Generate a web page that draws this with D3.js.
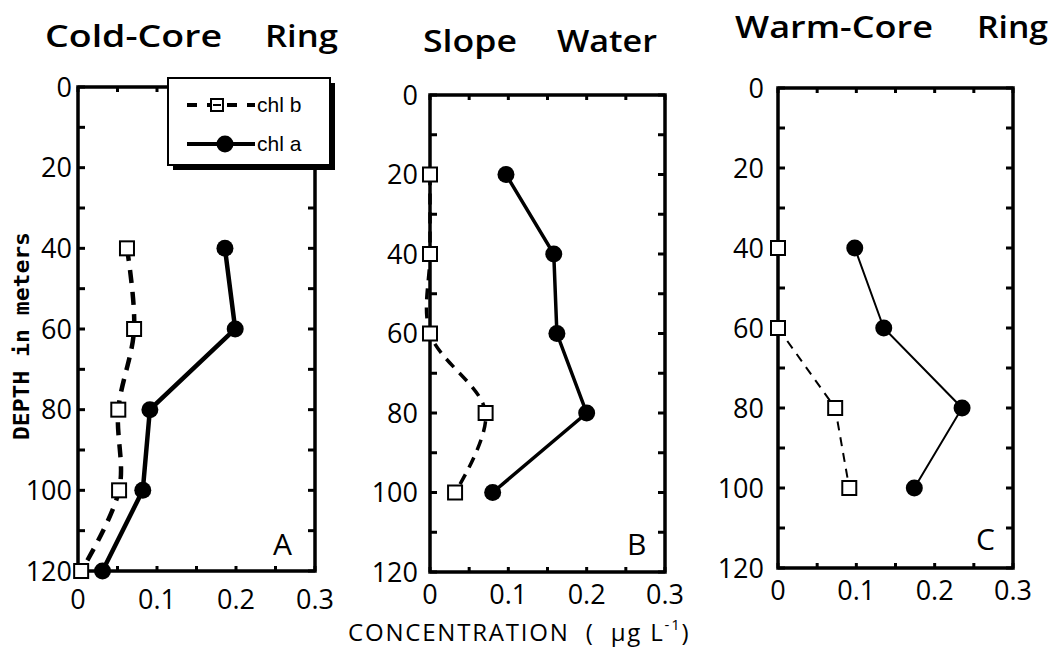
<!DOCTYPE html>
<html><head><meta charset="utf-8">
<script src="https://cdn.jsdelivr.net/npm/d3@7"></script>
<style>body{margin:0;background:#fff}svg{display:block}</style>
</head><body>
<script>
// ---- data ----
const panelLetters = ["A", "B", "C"];
const titleWords = [["Cold-Core", "Ring"], ["Slope", "Water"], ["Warm-Core", "Ring"]];
const depthTicks = [0, 20, 40, 60, 80, 100, 120];
const concTicks = [0, 0.1, 0.2, 0.3];
const concTickLabels = ["0", "0.1", "0.2", "0.3"];
const depthsA = [40, 60, 80, 100, 120];
const chlaA = [0.186, 0.199, 0.091, 0.082, 0.031];
const chlbA = [0.062, 0.071, 0.051, 0.052, 0.004];
const depthsB = [20, 40, 60, 80, 100];
const chlaB = [0.097, 0.158, 0.162, 0.200, 0.080];
const chlbB = [0, 0, 0, 0.071, 0.032];
const depthsC = [40, 60, 80, 100];
const chlaC = [0.098, 0.135, 0.235, 0.174];
const chlbC = [0, 0, 0.073, 0.091];
const legendLabels = ["chl b", "chl a"];
const yLabel = "DEPTH in meters";

// ---- layout ----
const W = 1055, H = 650;
const svg = d3.select("body").append("svg").attr("width", W).attr("height", H);
const FONT = "'Open Sans', 'DejaVu Sans', sans-serif";

const panels = [
  {x: [78, 315], y: [87, 571], depths: depthsA, a: chlaA, b: chlbA, lw: 4.5, dash: "13,9", gap: 6, xoff: 38,
   title: [[45, 222, 47], [265, 338, 47]], letter: [273, 555]},
  {x: [430, 665], y: [95, 572], depths: depthsB, a: chlaB, b: chlbB, lw: 3.5, dash: "11,8", gap: 12, xoff: 32,
   title: [[423, 517, 52], [557, 657, 52]], letter: [627, 555]},
  {x: [778, 1013], y: [88, 568], depths: depthsC, a: chlaC, b: chlbC, lw: 2, dash: "9,7", gap: 14, xoff: 32,
   title: [[735, 933, 38], [977, 1048, 38]], letter: [976, 550]}
];

panels.forEach((p, i) => {
  const x = d3.scaleLinear().domain([0, 0.3]).range(p.x);
  const y = d3.scaleLinear().domain([0, 120]).range(p.y);
  const g = svg.append("g");

  // inward ticks
  const yMinor = d3.range(0, 121, 10);
  const xMinor = d3.range(0, 0.3001, 0.05);
  g.selectAll(".tl").data(yMinor).join("line")
    .attr("x1", p.x[0]).attr("x2", p.x[0] + 7).attr("y1", d => y(d)).attr("y2", d => y(d))
    .attr("stroke", "#000").attr("stroke-width", 3);
  g.selectAll(".tr").data(yMinor).join("line")
    .attr("x1", p.x[1]).attr("x2", p.x[1] - 7).attr("y1", d => y(d)).attr("y2", d => y(d))
    .attr("stroke", "#000").attr("stroke-width", 3);
  g.selectAll(".tt").data(xMinor).join("line")
    .attr("x1", d => x(d)).attr("x2", d => x(d)).attr("y1", p.y[0]).attr("y2", p.y[0] + 5)
    .attr("stroke", "#000").attr("stroke-width", 3);
  g.selectAll(".tb").data(xMinor).join("line")
    .attr("x1", d => x(d)).attr("x2", d => x(d)).attr("y1", p.y[1]).attr("y2", p.y[1] - 5)
    .attr("stroke", "#000").attr("stroke-width", 3);

  // frame
  g.append("rect").attr("x", p.x[0]).attr("y", p.y[0])
    .attr("width", p.x[1] - p.x[0]).attr("height", p.y[1] - p.y[0])
    .attr("fill", "none").attr("stroke", "#000").attr("stroke-width", 3.5);

  // tick labels
  g.selectAll(".yl").data(depthTicks).join("text")
    .attr("x", p.x[0] - p.gap).attr("y", d => y(d)).attr("dy", "0.36em")
    .attr("text-anchor", "end").attr("font-family", FONT).attr("font-size", 27)
    .text(d => d);
  g.selectAll(".xl").data(concTicks).join("text")
    .attr("x", d => x(d)).attr("y", p.y[1] + p.xoff)
    .attr("text-anchor", "middle").attr("font-family", FONT).attr("font-size", 27)
    .text((d, k) => concTickLabels[k]);

  // data
  const ptsA = p.depths.map((d, k) => [p.a[k], d]);
  const ptsB = p.depths.map((d, k) => [p.b[k], d]);
  const line = d3.line().x(d => x(d[0])).y(d => y(d[1]));
  const lineB = d3.line().x(d => x(d[0])).y(d => y(d[1])).curve(i < 2 ? d3.curveCatmullRom : d3.curveLinear);
  g.append("path").attr("d", lineB(ptsB)).attr("fill", "none").attr("stroke", "#000")
    .attr("stroke-width", p.lw).attr("stroke-dasharray", p.dash);
  g.append("path").attr("d", line(ptsA)).attr("fill", "none").attr("stroke", "#000")
    .attr("stroke-width", p.lw);
  g.selectAll(".sq").data(ptsB).join("rect")
    .attr("x", d => x(d[0]) - 7).attr("y", d => y(d[1]) - 7).attr("width", 14).attr("height", 14)
    .attr("fill", "#fff").attr("stroke", "#000").attr("stroke-width", 2);
  g.selectAll(".ci").data(ptsA).join("circle")
    .attr("cx", d => x(d[0])).attr("cy", d => y(d[1])).attr("r", 8.5).attr("fill", "#000");

  // titles
  titleWords[i].forEach((w, k) => {
    const t = p.title[k];
    svg.append("text").attr("x", t[0]).attr("y", t[2])
      .attr("font-family", FONT).attr("font-size", 31).attr("font-weight", 600)
      .attr("textLength", t[1] - t[0]).attr("lengthAdjust", "spacingAndGlyphs").text(w);
  });
  // panel letter
  svg.append("text").attr("x", p.letter[0]).attr("y", p.letter[1])
    .attr("font-family", FONT).attr("font-size", 30).text(panelLetters[i]);
});

// legend (panel A)
const lg = svg.append("g");
lg.append("rect").attr("x", 173).attr("y", 83).attr("width", 162).attr("height", 87).attr("fill", "#000");
lg.append("rect").attr("x", 168).attr("y", 78).attr("width", 162).attr("height", 87)
  .attr("fill", "#fff").attr("stroke", "#000").attr("stroke-width", 2);
lg.append("line").attr("x1", 187).attr("x2", 255).attr("y1", 105).attr("y2", 105)
  .attr("stroke", "#000").attr("stroke-width", 4).attr("stroke-dasharray", "10,10");
lg.append("rect").attr("x", 211).attr("y", 99).attr("width", 12).attr("height", 12)
  .attr("fill", "#fff").attr("stroke", "#000").attr("stroke-width", 2);
lg.append("line").attr("x1", 213).attr("x2", 221).attr("y1", 105).attr("y2", 105)
  .attr("stroke", "#000").attr("stroke-width", 2);
lg.append("line").attr("x1", 187).attr("x2", 255).attr("y1", 144).attr("y2", 144)
  .attr("stroke", "#000").attr("stroke-width", 4);
lg.append("circle").attr("cx", 225).attr("cy", 144).attr("r", 8.5).attr("fill", "#000");
legendLabels.forEach((t, k) => {
  lg.append("text").attr("x", 257).attr("y", [112, 151][k])
    .attr("font-family", "'Liberation Sans', Arial, sans-serif").attr("font-size", 21).text(t);
});

// axis labels
svg.append("text").attr("transform", "translate(29,336) rotate(-90)")
  .attr("text-anchor", "middle").attr("font-family", "'DejaVu Sans Mono', monospace")
  .attr("font-weight", "bold").attr("font-size", 21)
  .attr("textLength", 208).attr("lengthAdjust", "spacingAndGlyphs").text(yLabel);
const xl = svg.append("text").attr("x", 348).attr("y", 641)
  .attr("font-family", FONT).attr("font-size", 24).attr("letter-spacing", 1.8).style("white-space", "pre");
xl.append("tspan").text("CONCENTRATION  (  \u03bcg L");
xl.append("tspan").attr("dy", -11).attr("font-size", 15).text("-1");
xl.append("tspan").attr("dy", 11).text(")");
</script>
</body></html>
